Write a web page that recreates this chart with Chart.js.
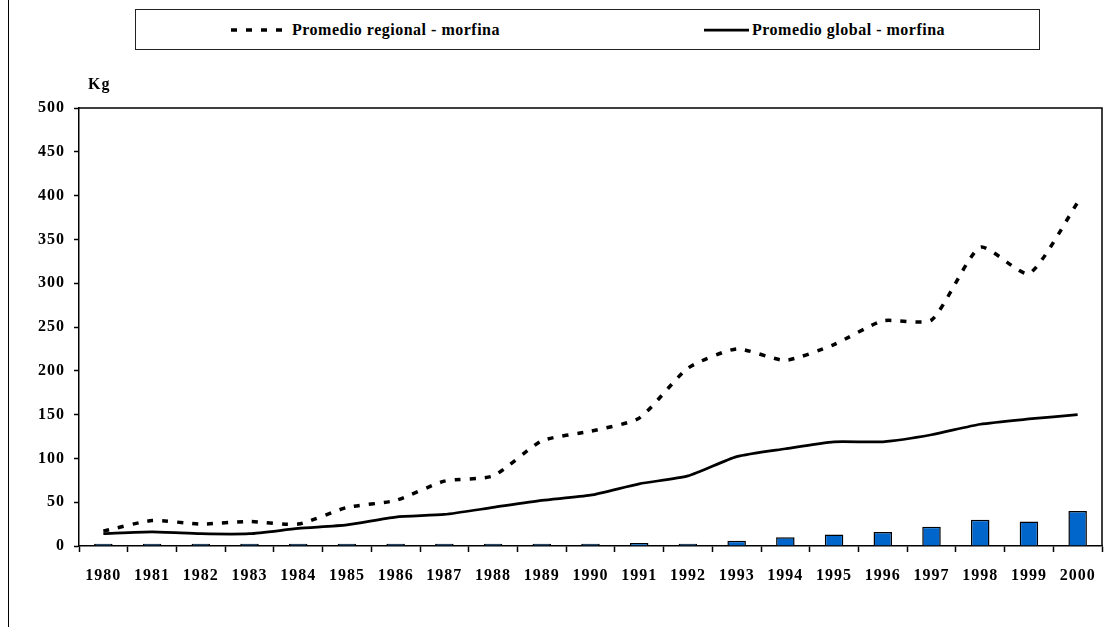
<!DOCTYPE html>
<html>
<head>
<meta charset="utf-8">
<script src="https://cdn.jsdelivr.net/npm/chart.js@4"></script>
<style>
  body { margin: 0; background: #fff; }
  #wrap { position: relative; width: 1112px; height: 627px; overflow: hidden; }
  #frame { position: absolute; left: 8px; top: 0; height: 627px; border-left: 1.5px solid #000; }
  #legend {
    position: absolute; left: 135px; top: 9px; width: 903px; height: 39px;
    border: 1.5px solid #222;
    font: bold 16px "Liberation Serif", "Times New Roman", serif;
    letter-spacing: 0.5px; color: #000;
  }
  #legend .item { position: absolute; top: 0; height: 39px; display: flex; align-items: center; }
  #legend svg { margin-right: 3px; }
  canvas { position: absolute; left: 0; top: 0; }
</style>
</head>
<body>
<div id="wrap">
  <div id="frame"></div>
  <div id="legend"></div>
  <canvas id="chart" width="1112" height="627"></canvas>
</div>
<script>
const years = ["1980", "1981", "1982", "1983", "1984", "1985", "1986", "1987", "1988", "1989", "1990",
  "1991", "1992", "1993", "1994", "1995", "1996", "1997", "1998", "1999", "2000"];
const regional = [17, 29, 25, 28, 25, 44, 52, 74, 80, 120, 131, 146, 203, 225, 212, 230, 257, 258, 341, 311, 392];
const global = [14, 16, 14, 14, 20, 24, 33, 36, 44, 52, 58, 71, 80, 102, 111, 119, 119, 127, 139, 145, 150];
const country = [2.5, 2.5, 2.5, 2.5, 2.5, 2.5, 2.5, 2.5, 2.5, 2.5, 2.5, 3.5, 2.5, 6, 10, 13, 16, 22, 30, 28, 40];
const yTicks = [0, 50, 100, 150, 200, 250, 300, 350, 400, 450, 500];

const font = { family: '"Liberation Serif", "Times New Roman", serif', size: 16, weight: "bold" };

// "Kg" over the axis, plot frame on top/right, wider letter spacing like the original
const extras = {
  id: "extras",
  beforeDraw(chart) {
    chart.ctx.letterSpacing = "1px";
  },
  afterDraw(chart) {
    const { ctx, chartArea } = chart;
    ctx.save();
    ctx.strokeStyle = "#000";
    ctx.lineWidth = 1.5;
    ctx.beginPath();
    ctx.moveTo(chartArea.left, chartArea.top);
    ctx.lineTo(chartArea.right, chartArea.top);
    ctx.lineTo(chartArea.right, chartArea.bottom);
    ctx.stroke();
    ctx.fillStyle = "#000";
    ctx.font = 'bold 16px "Liberation Serif", serif';
    ctx.textBaseline = "middle";
    ctx.fillText("Kg", chartArea.left + 9, chartArea.top - 23);
    ctx.restore();
  },
};

const chart = new Chart(document.getElementById("chart"), {
  data: {
    labels: years,
    datasets: [
      {
        type: "line",
        label: "Promedio regional - morfina",
        data: regional,
        borderColor: "#000",
        borderWidth: 3.5,
        borderDash: [6, 9],
        pointRadius: 0,
        tension: 0.2,
        order: 1,
      },
      {
        type: "line",
        label: "Promedio global - morfina",
        data: global,
        borderColor: "#000",
        borderWidth: 2.75,
        pointRadius: 0,
        tension: 0.2,
        order: 1,
      },
      {
        type: "bar",
        label: "Morfina",
        data: country,
        backgroundColor: "#0066CC",
        borderColor: "#000",
        borderWidth: 1.5,
        categoryPercentage: 1,
        barPercentage: 0.38,
        order: 2,
      },
    ],
  },
  options: {
    responsive: false,
    animation: false,
    events: [],
    layout: { padding: { left: 10, top: 108, right: 10, bottom: 11 } },
    plugins: { legend: { display: false }, tooltip: { enabled: false } },
    scales: {
      x: {
        offset: true,
        afterFit: (scale) => { scale.height = 70; },
        grid: { offset: true, drawOnChartArea: false, tickLength: 6, tickColor: "#000", tickWidth: 1.5 },
        border: { color: "#000", width: 1.5 },
        ticks: { color: "#000", font: font, padding: 14, maxRotation: 0, autoSkip: false },
      },
      y: {
        min: 0,
        max: 500,
        afterFit: (scale) => { scale.width = 69; },
        afterBuildTicks: (scale) => { scale.ticks = yTicks.map((v) => ({ value: v })); },
        grid: { drawOnChartArea: false, tickLength: 5, tickColor: "#000", tickWidth: 1.5 },
        border: { color: "#000", width: 1.5 },
        ticks: { color: "#000", font: font, padding: 9 },
      },
    },
  },
  plugins: [extras],
});

// legend box, built from the line series
const legendDiv = document.getElementById("legend");
const itemLeft = [95, 568];
const itemWidth = [58, 45];
chart.data.datasets
  .filter((ds) => ds.type === "line")
  .forEach((ds, i) => {
    const item = document.createElement("div");
    item.className = "item";
    item.style.left = itemLeft[i] + "px";
    const dash = ds.borderDash ? ds.borderDash.join(" ") : "none";
    item.innerHTML =
      `<svg width="${itemWidth[i]}" height="8"><line x1="0" y1="4" x2="${itemWidth[i]}" y2="4" ` +
      `stroke="#000" stroke-width="${ds.borderWidth}" stroke-dasharray="${dash}"/></svg>` +
      `<span>${ds.label}</span>`;
    legendDiv.appendChild(item);
  });
</script>
</body>
</html>
